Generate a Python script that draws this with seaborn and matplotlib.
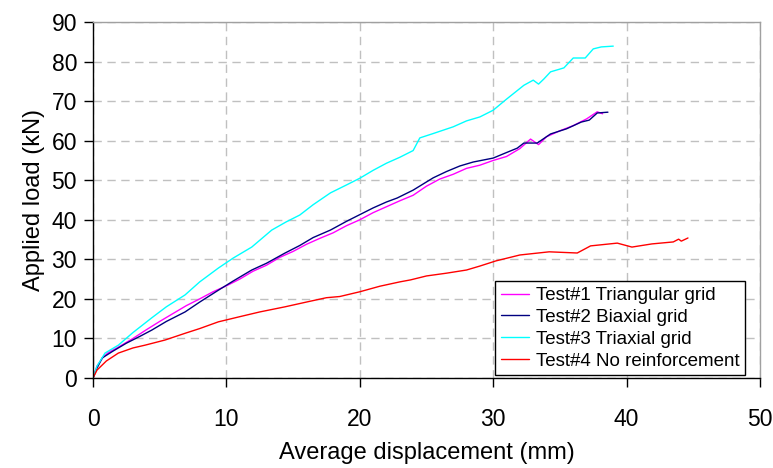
import matplotlib
matplotlib.use("Agg")
import matplotlib.pyplot as plt
import seaborn as sns
import pandas as pd

labels = ["Test#1 Triangular grid", "Test#2 Biaxial grid",
          "Test#3 Triaxial grid", "Test#4 No reinforcement"]
colors = ["#FF00FF", "#000080", "#00FFFF", "#FF0000"]

x1 = [0, 0.3, 0.7, 1.1, 2, 3, 4, 5, 6, 7, 8, 9, 10, 11, 12, 13, 14, 15, 16, 17, 18, 19, 20,
      21, 22, 23, 24, 25, 26, 27, 28, 29, 30, 31, 32, 32.8, 33.4, 34, 35, 36, 37, 37.8, 38.2]
y1 = [0, 3, 5, 6.3, 8, 10, 12.2, 14.3, 16.3, 18.3, 20, 21.8, 23.3, 25, 27, 28.5, 30.5, 32,
      33.8, 35.3, 36.7, 38.5, 40, 41.8, 43.3, 44.8, 46.2, 48.5, 50.3, 51.5, 53, 53.8, 55,
      56, 58, 60.4, 59, 61, 62.5, 63.8, 65.5, 67.3, 66.8]

x2 = [0, 0.3, 0.7, 1.5, 2.5, 3.5, 4.4, 5.5, 6.9, 8, 9.4, 10.5, 11.9, 13, 14.4, 15.5, 16.5,
      17.8, 19, 20, 21, 22, 22.8, 24, 25.5, 26.5, 27.5, 28.5, 30, 31, 31.8, 32.3, 33.3,
      34.3, 35.5, 36.6, 37.2, 37.8, 38.6]
y2 = [0, 2.5, 5.1, 6.8, 8.8, 10.5, 12.1, 14.3, 16.7, 19.2, 22.2, 24.5, 27.3, 29, 31.6,
      33.5, 35.5, 37.4, 39.6, 41.3, 43, 44.5, 45.5, 47.5, 50.6, 52.2, 53.6, 54.6, 55.6, 57,
      58.1, 59.4, 59.4, 61.7, 63, 64.7, 65.2, 67.0, 67.2]

x3 = [0, 0.3, 0.9, 1.9, 3, 4.4, 5.5, 6.9, 8, 9.4, 10.5, 11.9, 13.4, 14.5, 15.5, 16.5, 17.8,
      19, 20, 21, 22, 23, 24, 24.5, 25.5, 27, 28, 29, 30, 31, 32.3, 33.0, 33.4, 33.8, 34.3,
      35.3, 36.0, 36.9, 37.5, 38.1, 39.0]
y3 = [0, 3, 6.3, 8.3, 11.5, 15.2, 18, 21, 24.3, 27.8, 30.3, 33.1, 37.4, 39.5, 41.2, 43.8,
      46.8, 48.8, 50.5, 52.5, 54.3, 55.8, 57.5, 60.7, 61.8, 63.5, 65, 66, 67.7, 70.5, 74,
      75.3, 74.3, 75.6, 77.4, 78.4, 80.9, 80.9, 83.2, 83.7, 83.9]

x4 = [0, 0.3, 1, 1.9, 3, 3.9, 5.4, 6.9, 8, 9.4, 11, 12.5, 14.4, 16, 17.5, 18.5, 20, 21.5,
      23, 23.8, 25, 26.5, 28, 29, 30.2, 32, 34.2, 36.3, 37.3, 39.3, 40.4, 41.9, 43.5, 43.9,
      44.1, 44.6]
y4 = [0, 2, 4.3, 6.3, 7.6, 8.3, 9.6, 11.3, 12.5, 14.2, 15.5, 16.7, 18.0, 19.2, 20.3, 20.6,
      21.8, 23.2, 24.3, 24.8, 25.8, 26.5, 27.3, 28.3, 29.6, 31.1, 31.9, 31.6, 33.4, 34.1,
      33.1, 33.9, 34.4, 35.1, 34.6, 35.4]

xs = [x1, x2, x3, x4]
ys = [y1, y2, y3, y4]

frames = []
for lab, xx, yy in zip(labels, xs, ys):
    frames.append(pd.DataFrame({"disp": xx, "load": yy, "test": lab}))
df = pd.concat(frames, ignore_index=True)

sns.set_theme(style="white")
plt.rcParams["font.family"] = ["Liberation Sans", "DejaVu Sans"]
plt.rcParams["text.color"] = "black"
plt.rcParams["axes.labelcolor"] = "black"
plt.rcParams["xtick.color"] = "black"
plt.rcParams["ytick.color"] = "black"

fig = plt.figure(figsize=(7.73, 4.68), dpi=100)
ax = fig.add_axes([93 / 773, 1 - 378 / 468, (760 - 93) / 773, (378 - 22) / 468])

sns.lineplot(data=df, x="disp", y="load", hue="test", hue_order=labels,
             palette=dict(zip(labels, colors)), sort=False, estimator=None,
             linewidth=1.0, ax=ax)

ax.set_xlim(0, 50)
ax.set_ylim(0, 90)
ax.set_xticks(range(0, 51, 10))
ax.set_yticks(range(0, 91, 10))
ax.grid(True, color="#C0C0C0", linestyle=(0, (6, 4)), linewidth=1.0)
ax.set_axisbelow(True)

for side in ["left", "bottom"]:
    ax.spines[side].set_color("black")
    ax.spines[side].set_linewidth(1.0)
for side in ["top", "right"]:
    ax.spines[side].set_color("#A0A0A0")
    ax.spines[side].set_linewidth(1.0)

ax.tick_params(axis="x", direction="out", length=6.5, width=1, color="black",
               pad=15, labelsize=16.5, bottom=True, labelcolor="black")
ax.tick_params(axis="y", direction="out", length=6.5, width=1, color="black",
               pad=5, labelsize=16.5, left=True, labelcolor="black")

ax.set_xlabel("Average displacement (mm)", fontsize=17, labelpad=8, color="black")
ax.set_ylabel("Applied load (kN)", fontsize=17, labelpad=5, color="black")

leg = ax.legend(loc="lower right", bbox_to_anchor=(0.9775, 0.008), borderaxespad=0,
                fontsize=13.5, frameon=True, fancybox=False, edgecolor="black",
                framealpha=1, handlelength=1.5, handletextpad=0.35,
                labelspacing=0.25, borderpad=0.3)
leg.get_frame().set_linewidth(1.0)
for t in leg.get_texts():
    t.set_color("black")
leg.set_title(None)

fig.savefig("out.png", dpi=100)
